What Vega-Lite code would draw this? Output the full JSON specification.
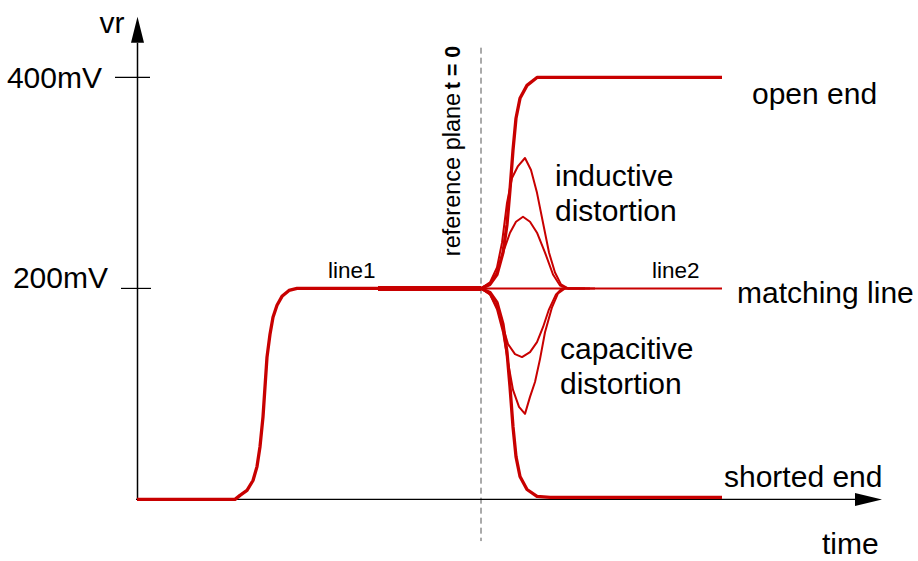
{
  "$schema": "https://vega.github.io/schema/vega-lite/v6.json",
  "width": 918,
  "height": 561,
  "padding": 0,
  "autosize": {"type": "fit", "contains": "padding"},
  "background": "white",
  "config": {"view": {"stroke": null}, "text": {"font": "Liberation Sans", "color": "#000000"}},
  "datasets": {
    "curves": [
      {"s":"inc","t":-34.4,"v":0},{"s":"inc","t":-24.6,"v":0},{"s":"inc","t":-24.1,"v":3.8},{"s":"inc","t":-23.4,"v":8.5},{"s":"inc","t":-22.8,"v":17.9},{"s":"inc","t":-22.4,"v":31.1},{"s":"inc","t":-22.1,"v":50.0},{"s":"inc","t":-21.8,"v":78.3},{"s":"inc","t":-21.6,"v":106.6},{"s":"inc","t":-21.4,"v":134.9},{"s":"inc","t":-21.1,"v":156.6},{"s":"inc","t":-20.8,"v":172.6},{"s":"inc","t":-20.4,"v":184.0},{"s":"inc","t":-19.9,"v":192.5},{"s":"inc","t":-19.2,"v":198.1},{"s":"inc","t":-18.4,"v":200},{"s":"inc","t":-10.3,"v":200},{"s":"inc","t":0,"v":200},
      {"s":"open","t":0,"v":200},{"s":"open","t":0.9,"v":203.8},{"s":"open","t":1.6,"v":213.2},{"s":"open","t":2.2,"v":234.0},{"s":"open","t":2.6,"v":260.4},{"s":"open","t":2.9,"v":293.4},{"s":"open","t":3.2,"v":331.1},{"s":"open","t":3.5,"v":361.3},{"s":"open","t":3.9,"v":380.2},{"s":"open","t":4.6,"v":392.5},{"s":"open","t":5.6,"v":400},{"s":"open","t":24.1,"v":400},
      {"s":"short","t":0,"v":200},{"s":"short","t":0.9,"v":196.2},{"s":"short","t":1.6,"v":186.8},{"s":"short","t":2.2,"v":166.0},{"s":"short","t":2.6,"v":139.6},{"s":"short","t":2.9,"v":106.6},{"s":"short","t":3.2,"v":68.9},{"s":"short","t":3.5,"v":40.6},{"s":"short","t":3.9,"v":21.7},{"s":"short","t":4.6,"v":9.4},{"s":"short","t":5.6,"v":2.8},{"s":"short","t":6.9,"v":1.9},{"s":"short","t":24.1,"v":1.9},
      {"s":"ind1","t":0,"v":200},{"s":"ind1","t":0.9,"v":205.7},{"s":"ind1","t":1.6,"v":219.8},{"s":"ind1","t":2.1,"v":243.4},{"s":"ind1","t":2.6,"v":281.1},{"s":"ind1","t":3.1,"v":304.7},{"s":"ind1","t":3.7,"v":316.0},{"s":"ind1","t":4.4,"v":323.6},{"s":"ind1","t":5.0,"v":312.3},{"s":"ind1","t":5.6,"v":290.6},{"s":"ind1","t":6.2,"v":262.3},{"s":"ind1","t":6.8,"v":234.0},{"s":"ind1","t":7.4,"v":215.1},{"s":"ind1","t":8.0,"v":203.8},{"s":"ind1","t":8.7,"v":200},{"s":"ind1","t":10.9,"v":200},
      {"s":"ind2","t":0,"v":200},{"s":"ind2","t":0.9,"v":204.7},{"s":"ind2","t":1.6,"v":215.1},{"s":"ind2","t":2.2,"v":234.0},{"s":"ind2","t":2.9,"v":252.8},{"s":"ind2","t":3.5,"v":263.2},{"s":"ind2","t":4.2,"v":267.9},{"s":"ind2","t":4.9,"v":263.2},{"s":"ind2","t":5.6,"v":252.8},{"s":"ind2","t":6.4,"v":234.0},{"s":"ind2","t":7.2,"v":213.2},{"s":"ind2","t":7.9,"v":202.8},{"s":"ind2","t":8.7,"v":200},{"s":"ind2","t":11.4,"v":200},
      {"s":"cap1","t":0,"v":200},{"s":"cap1","t":0.9,"v":194.3},{"s":"cap1","t":1.6,"v":182.1},{"s":"cap1","t":2.2,"v":163.2},{"s":"cap1","t":2.7,"v":147.2},{"s":"cap1","t":3.4,"v":137.7},{"s":"cap1","t":4.1,"v":134.9},{"s":"cap1","t":4.9,"v":139.6},{"s":"cap1","t":5.6,"v":149.1},{"s":"cap1","t":6.2,"v":163.2},{"s":"cap1","t":6.8,"v":180.2},{"s":"cap1","t":7.5,"v":194.3},{"s":"cap1","t":8.1,"v":200},{"s":"cap1","t":9.9,"v":200},
      {"s":"cap2","t":0,"v":200},{"s":"cap2","t":0.9,"v":194.3},{"s":"cap2","t":1.6,"v":180.2},{"s":"cap2","t":2.2,"v":158.5},{"s":"cap2","t":2.7,"v":130.2},{"s":"cap2","t":3.2,"v":103.8},{"s":"cap2","t":3.8,"v":87.7},{"s":"cap2","t":4.4,"v":81.1},{"s":"cap2","t":4.9,"v":97.2},{"s":"cap2","t":5.4,"v":111.3},{"s":"cap2","t":5.9,"v":133.0},{"s":"cap2","t":6.4,"v":158.5},{"s":"cap2","t":7.1,"v":182.1},{"s":"cap2","t":7.7,"v":195.3},{"s":"cap2","t":8.4,"v":200},{"s":"cap2","t":10.4,"v":200},
      {"s":"match","t":0,"v":200},{"s":"match","t":24.1,"v":200}
    ]
  },
  "encoding": {
    "x": {"field": "t", "type": "quantitative", "scale": {"domain": [-48.1, 43.7], "nice": false, "zero": false}, "axis": null},
    "y": {"field": "v", "type": "quantitative", "scale": {"domain": [-54.6, 473.4], "nice": false, "zero": false}, "axis": null}
  },
  "layer": [
    {
      "data": {"values": [{"t": 0, "v": 428.2, "v2": -39.5}]},
      "mark": {"type": "rule", "color": "#555555", "strokeWidth": 1, "strokeDash": [6, 4]},
      "encoding": {"y2": {"field": "v2"}}
    },
    {
      "data": {"values": [{"t": -34.35, "v": -0.5, "v2": 432.9}]},
      "mark": {"type": "rule", "color": "#000000", "strokeWidth": 1.5},
      "encoding": {"y2": {"field": "v2"}}
    },
    {
      "data": {"values": [{"t": -34.5, "t2": 37.6, "v": 0}, {"t": -36.6, "t2": -33.1, "v": 400}, {"t": -36.0, "t2": -33.0, "v": 200}]},
      "mark": {"type": "rule", "color": "#000000", "strokeWidth": 1.2},
      "encoding": {"x2": {"field": "t2"}}
    },
    {
      "data": {"values": [{"t": 38.75, "v": 0}]},
      "mark": {"type": "point", "shape": "M1,0L-1,-0.48L-1,0.48Z", "filled": true, "color": "#000000", "opacity": 1, "size": 729, "strokeWidth": 0}
    },
    {
      "data": {"values": [{"t": -34.35, "v": 445.2}]},
      "mark": {"type": "point", "shape": "M0,-1L0.5,1L-0.5,1Z", "filled": true, "color": "#000000", "opacity": 1, "size": 676, "strokeWidth": 0}
    },
    {
      "data": {"name": "curves"},
      "transform": [{"filter": "indexof(['ind1','ind2','cap1','cap2','match'], datum.s) >= 0"}],
      "mark": {"type": "line", "color": "#c80000", "strokeWidth": 2, "strokeJoin": "round"},
      "encoding": {"detail": {"field": "s"}}
    },
    {
      "data": {"name": "curves"},
      "transform": [{"filter": "indexof(['inc','open','short'], datum.s) >= 0"}],
      "mark": {"type": "line", "color": "#c80000", "strokeWidth": 3.3, "strokeJoin": "round"},
      "encoding": {"detail": {"field": "s"}}
    },
    {
      "data": {"values": [{"t": -10.3, "t2": 0, "v": 200}]},
      "mark": {"type": "rule", "color": "#c80000", "strokeWidth": 5},
      "encoding": {"x2": {"field": "t2"}}
    },
    {
      "data": {"values": [
        {"t": 27.1, "v": 374.6, "label": "open end"},
        {"t": 7.4, "v": 297.4, "label": "inductive"},
        {"t": 7.4, "v": 263.5, "label": "distortion"},
        {"t": 25.6, "v": 186.4, "label": "matching line"},
        {"t": 7.9, "v": 132.7, "label": "capacitive"},
        {"t": 7.9, "v": 99.8, "label": "distortion"},
        {"t": 24.3, "v": 12.2, "label": "shorted end"},
        {"t": 34.1, "v": -51.8, "label": "time"}
      ]},
      "mark": {"type": "text", "align": "left", "baseline": "alphabetic", "fontSize": 30},
      "encoding": {"text": {"field": "label"}}
    },
    {
      "data": {"values": [
        {"t": -37.9, "v": 389.6, "label": "400mV"},
        {"t": -37.3, "v": 200.5, "label": "200mV"}
      ]},
      "mark": {"type": "text", "align": "right", "baseline": "alphabetic", "fontSize": 30},
      "encoding": {"text": {"field": "label"}}
    },
    {
      "data": {"values": [{"t": -36.9, "v": 442.4, "label": "vr"}]},
      "mark": {"type": "text", "align": "center", "baseline": "alphabetic", "fontSize": 30},
      "encoding": {"text": {"field": "label"}}
    },
    {
      "data": {"values": [
        {"t": -15.3, "v": 209.9, "label": "line1"},
        {"t": 17.1, "v": 209.9, "label": "line2"}
      ]},
      "mark": {"type": "text", "align": "left", "baseline": "alphabetic", "fontSize": 22.5},
      "encoding": {"text": {"field": "label"}}
    },
    {
      "data": {"values": [{"t": -2.1, "v": 230.6, "label": "reference plane"}]},
      "mark": {"type": "text", "align": "left", "baseline": "alphabetic", "fontSize": 23.5, "angle": 270},
      "encoding": {"text": {"field": "label"}}
    },
    {
      "data": {"values": [{"t": -2.1, "v": 388.7, "label": "t = 0"}]},
      "mark": {"type": "text", "align": "left", "baseline": "alphabetic", "fontSize": 21.5, "fontWeight": "bold", "angle": 270},
      "encoding": {"text": {"field": "label"}}
    }
  ]
}
